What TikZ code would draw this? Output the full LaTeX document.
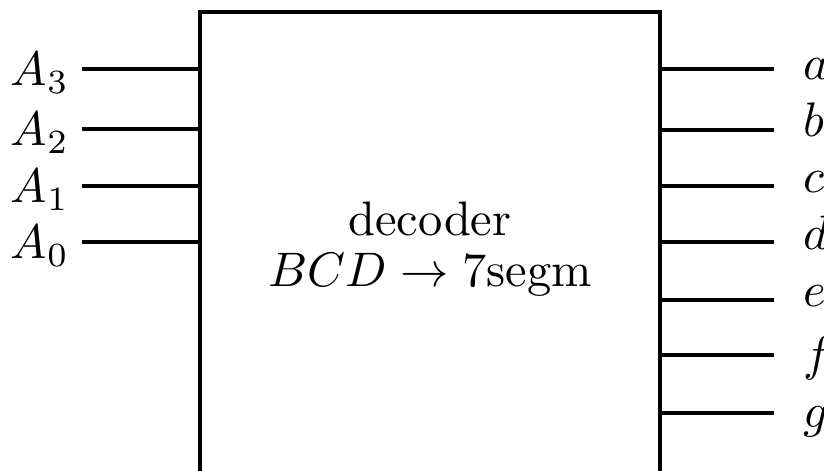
\documentclass[tikz,border=0pt]{standalone}
\usepackage{amsmath}
\usetikzlibrary{positioning,calc}

\begin{document}
\begin{tikzpicture}[
  x=0.2063pt,y=-0.2063pt,
  body/.style={line width=0.82pt,line join=miter},
  wire/.style={line width=0.68pt},
  pinlabel/.style={inner sep=0pt,font=\normalsize}
]
\useasboundingbox (0,0) rectangle (824,471);
% decoder body, open at the bottom
\coordinate (bl) at (200,471); \coordinate (tl) at (200,12);
\coordinate (tr) at (660,12);  \coordinate (br) at (660,471);
\draw[body] (bl)--(tl)--(tr)--(br);
\node[inner sep=0pt,align=center] (func) at (430,249)
  {decoder\\[-1.6pt]$BCD\rightarrow 7\text{segm}$};
% inputs
\foreach \i/\y in {3/69,2/129,1/186,0/242}{
  \coordinate (in\i) at (202,\y);
  \coordinate (ine\i) at (82,\y);
  \node[pinlabel,anchor=base east] (A\i) at (70,\y+17) {$A_\i$};
  \draw[wire] (ine\i)--(in\i);
}
% outputs
\foreach \s/\y/\b in {a/69/80,b/130/137,c/186/193,d/242/250,e/300/307,f/355/371,g/413/428}{
  \coordinate (out\s) at (660,\y);
  \coordinate (oute\s) at (774,\y);
  \node[pinlabel,anchor=base west] (lbl\s) at (803,\b) {$\s$};
  \draw[wire] (out\s)--(oute\s);
}
\end{tikzpicture}
\end{document}
